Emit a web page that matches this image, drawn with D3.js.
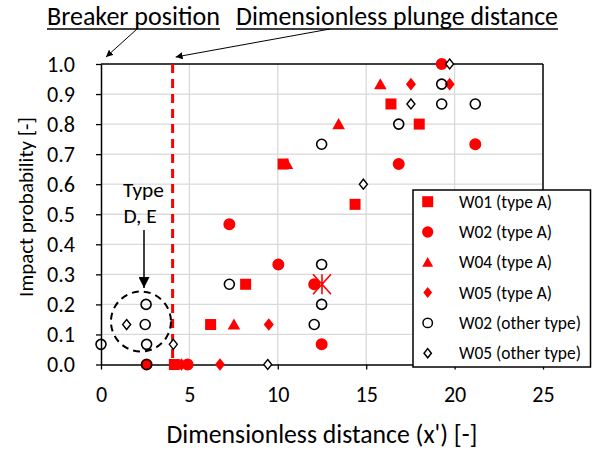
<!DOCTYPE html>
<html><head><meta charset="utf-8">
<script src="https://cdn.jsdelivr.net/npm/d3@7"></script>
<style>
body{margin:0;background:#fff}
svg{display:block}
text{font-family:Carlito, Lato, "Liberation Sans", sans-serif; fill:#000}
</style>
</head><body>
<svg id="c" width="592" height="450"></svg>
<script>
// ---------- data ----------
const xTicks = [0, 5, 10, 15, 20, 25];
const yTicks = [0, 0.1, 0.2, 0.3, 0.4, 0.5, 0.6, 0.7, 0.8, 0.9, 1.0];
const xGrid = [5, 10, 15, 20];
const yGrid = [0.1, 0.2, 0.3, 0.4, 0.5, 0.6, 0.7, 0.8, 0.9];

const seriesNames = ["W01 (type A)", "W02 (type A)", "W04 (type A)", "W05 (type A)", "W02 (other type)", "W05 (other type)"];

const w01A = [[4.15,0],[6.2,0.133],[8.18,0.267],[10.3,0.667],[14.37,0.533],[16.4,0.867],[18.0,0.8]];
const w02A = [[2.58,0],[4.9,0],[7.26,0.467],[10.03,0.333],[12.06,0.267],[12.48,0.067],[16.84,0.667],[19.27,1.0],[21.17,0.733]];
const w04A = [[7.52,0.133],[10.52,0.667],[13.44,0.8],[15.8,0.933]];
const w05A = [[4.55,0],[6.73,0],[9.49,0.133],[17.53,0.933],[19.72,0.933]];
const w02O = [[0.0,0.067],[2.55,0.2],[2.5,0.133],[2.58,0.067],[2.58,0],[7.26,0.267],[12.06,0.133],[12.48,0.2],[12.48,0.333],[12.48,0.733],[16.84,0.8],[19.27,0.867],[19.27,0.933],[21.17,0.867]];
const w05O = [[1.45,0.133],[4.09,0.067],[9.43,0],[14.84,0.6],[17.53,0.867],[19.72,1.0]];
const special = [[12.5,0.267]];          // red asterisk marker
const plungeDistance = 4.05;             // dashed red line
const typeDE = {x:2.26, y:0.143};        // dashed circle centre

// ---------- layout ----------
const svg = d3.select("#c");
const x = d3.scaleLinear([0,25],[101,543]);
const y = d3.scaleLinear([0,1],[364.5,64]);
const RED = "#ff0000";

function fit(sel, target){
  const n = sel.node();
  const fs = parseFloat(sel.attr("font-size"));
  const w = n.getComputedTextLength();
  const nf = fs*target/w;
  sel.attr("font-size", nf);
  return nf;
}

// grid
svg.append("g").selectAll("line").data(xGrid).join("line")
  .attr("x1",d=>x(d)).attr("x2",d=>x(d)).attr("y1",y(0)).attr("y2",y(1))
  .attr("stroke","#d9d9d9").attr("stroke-width",1.3);
svg.append("g").selectAll("line").data(yGrid).join("line")
  .attr("y1",d=>y(d)).attr("y2",d=>y(d)).attr("x1",x(0)).attr("x2",x(25))
  .attr("stroke","#d9d9d9").attr("stroke-width",1.3);

// frame top/right
svg.append("line").attr("x1",x(0)).attr("x2",x(25)).attr("y1",y(1)).attr("y2",y(1)).attr("stroke","#000").attr("stroke-width",1.5);
svg.append("line").attr("x1",x(25)).attr("x2",x(25)).attr("y1",y(0)).attr("y2",y(1)).attr("stroke","#000").attr("stroke-width",1.5);

// tick font size
const probe = svg.append("text").attr("font-size",20).text("1.0");
const tickFs = fit(probe, 28);
probe.remove();

// axes
const gx = svg.append("g").attr("transform",`translate(0,${y(0)})`)
  .call(d3.axisBottom(x).tickValues(xTicks).tickSize(5).tickSizeOuter(0).tickPadding(17).tickFormat(d3.format("d")));
const gy = svg.append("g").attr("transform",`translate(${x(0)},0)`)
  .call(d3.axisLeft(y).tickValues(yTicks).tickSize(5).tickSizeOuter(0).tickPadding(21).tickFormat(d3.format(".1f")));
[gx,gy].forEach(g=>{
  g.selectAll("path.domain").attr("stroke","#000").attr("stroke-width",1.5);
  g.selectAll(".tick line").attr("stroke","#000").attr("stroke-width",1.3);
  g.selectAll("text").attr("font-size",tickFs).attr("font-family",null).attr("fill","#000");
});

// dashed plunge line
svg.append("line").attr("x1",x(plungeDistance)).attr("x2",x(plungeDistance))
  .attr("y1",y(1)).attr("y2",y(0)).attr("stroke",RED).attr("stroke-width",3)
  .attr("stroke-dasharray","9,6");

// markers
const sym = (type,size)=>d3.symbol().type(type).size(size)();
const diamondPath = s=>`M0,${-s}L${s*0.8},0L0,${s}L${-s*0.8},0Z`;
const triPath = s=>`M0,${-s*0.95}L${s},${s*0.8}L${-s},${s*0.8}Z`;

function plot(data, path, fill, stroke, sw){
  svg.append("g").selectAll("path").data(data).join("path")
    .attr("transform",d=>`translate(${x(d[0])},${y(d[1])})`)
    .attr("d",path).attr("fill",fill).attr("stroke",stroke).attr("stroke-width",sw);
}
plot(w01A, "M-5.5,-5.5H5.5V5.5H-5.5Z", RED, "none", 0);
plot(w02A, sym(d3.symbolCircle, 113), RED, "none", 0);
plot(w04A, triPath(6.3), RED, "none", 0);
plot(w05A, diamondPath(6.3), RED, "none", 0);
plot(w02O, sym(d3.symbolCircle, 78), "none", "#000", 1.6);
plot(w05O, diamondPath(5), "#fff", "#000", 1.4);
plot(special, "M0,-10V10M-9,-10L9,10M-9,10L9,-10", "none", RED, 1.6);

// Type D,E annotation
svg.append("circle").attr("cx",x(typeDE.x)).attr("cy",y(typeDE.y)).attr("r",30)
  .attr("fill","none").attr("stroke","#000").attr("stroke-width",2).attr("stroke-dasharray","7,5");
svg.append("defs").html(`
<marker id="ahBig" viewBox="0 0 10 10" refX="10" refY="5" markerWidth="11" markerHeight="11" markerUnits="userSpaceOnUse" orient="auto"><path d="M0,0L10,5L0,10Z" fill="#000"/></marker>
<marker id="ahSm" viewBox="0 0 10 10" refX="10" refY="5" markerWidth="7" markerHeight="7" markerUnits="userSpaceOnUse" orient="auto"><path d="M0,0L10,5L0,10Z" fill="#000"/></marker>`);
svg.append("line").attr("x1",144).attr("x2",144).attr("y1",230).attr("y2",288)
  .attr("stroke","#000").attr("stroke-width",1.5).attr("marker-end","url(#ahBig)");
const t1 = svg.append("text").attr("x",143.5).attr("y",197).attr("text-anchor","middle").attr("font-size",20).text("Type");
const annFs = fit(t1, 41);
svg.append("text").attr("x",140).attr("y",223).attr("text-anchor","middle").attr("font-size",annFs).text("D, E");

// legend
const lg = svg.append("g");
lg.append("rect").attr("x",413).attr("y",190).attr("width",177.5).attr("height",177)
  .attr("fill","#fff").attr("stroke","#000").attr("stroke-width",1.5);
const legPaths = ["M-5.5,-5.5H5.5V5.5H-5.5Z", sym(d3.symbolCircle,100), triPath(5.5), diamondPath(5.5), sym(d3.symbolCircle,70), diamondPath(4.6)];
const legFill = [RED,RED,RED,RED,"none","#fff"];
const legStroke = ["none","none","none","none","#000","#000"];
const rowY = i=>201.7+i*30.3;
seriesNames.forEach((n,i)=>{
  lg.append("path").attr("transform",`translate(427.7,${rowY(i)})`).attr("d",legPaths[i])
    .attr("fill",legFill[i]).attr("stroke",legStroke[i]).attr("stroke-width",1.5);
});
const lt = lg.append("text").attr("x",459).attr("y",rowY(4)).attr("dy","0.35em").attr("font-size",18).text(seriesNames[4]);
const legFs = fit(lt, 122);
lt.remove();
seriesNames.forEach((n,i)=>{
  lg.append("text").attr("x",459).attr("y",rowY(i)).attr("dy","0.35em").attr("font-size",legFs).text(n);
});

// axis titles
const yt = svg.append("text").attr("transform","translate(33,207) rotate(-90)").attr("text-anchor","middle")
  .attr("font-size",20).text("Impact probability [-]");
fit(yt, 180);
const xt = svg.append("text").attr("x",322).attr("y",443).attr("text-anchor","middle")
  .attr("font-size",20).text("Dimensionless distance (x') [-]");
fit(xt, 311);

// top titles with underline and arrows
function title(txt, x0, w){
  const t = svg.append("text").attr("x",x0).attr("y",25).attr("font-size",20).text(txt);
  fit(t, w);
  svg.append("line").attr("x1",x0).attr("x2",x0+w).attr("y1",29).attr("y2",29).attr("stroke","#000").attr("stroke-width",1.3);
}
title("Breaker position", 47, 173);
title("Dimensionless plunge distance", 236, 322);
svg.append("line").attr("x1",137).attr("y1",29).attr("x2",x(0)+5).attr("y2",y(1)-7)
  .attr("stroke","#000").attr("stroke-width",1).attr("marker-end","url(#ahSm)");
svg.append("line").attr("x1",330).attr("y1",29).attr("x2",x(plungeDistance)+3).attr("y2",y(1)-7)
  .attr("stroke","#000").attr("stroke-width",1).attr("marker-end","url(#ahSm)");
</script>
</body></html>
